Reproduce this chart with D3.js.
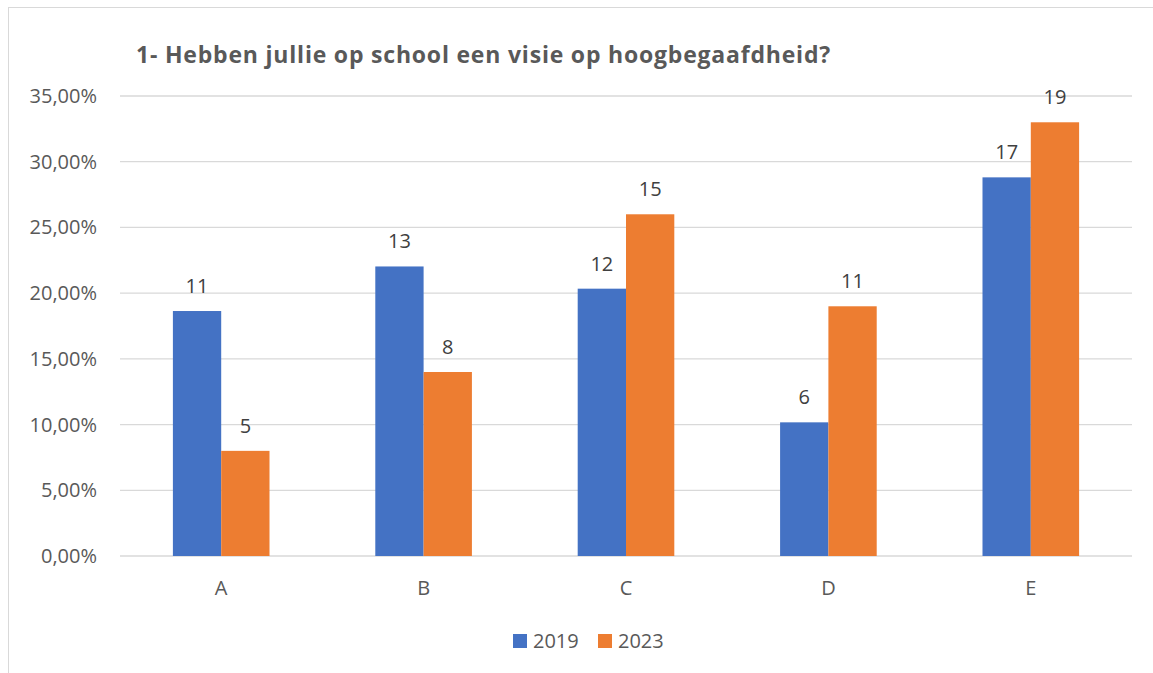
<!DOCTYPE html>
<html>
<head>
<meta charset="utf-8">
<script src="https://cdn.jsdelivr.net/npm/d3@7"></script>
<style>
  body { margin: 0; background: #fff; }
  svg text { font-family: "Open Sans", sans-serif; }
</style>
</head>
<body>
<svg id="chart" width="1153" height="673"></svg>
<script>
// chart data
const categories = ["A", "B", "C", "D", "E"];
const seriesNames = ["2019", "2023"];
const pct2019 = [18.64, 22.03, 20.34, 10.17, 28.81];
const pct2023 = [8.0, 14.0, 26.0, 19.0, 33.0];
const count2019 = [11, 13, 12, 6, 17];
const count2023 = [5, 8, 15, 11, 19];
const yTicks = [0, 5, 10, 15, 20, 25, 30, 35];
const colors = ["#4472C4", "#ED7D31"];

const margin = { top: 96, right: 21, bottom: 117, left: 120 };
const W = 1153, H = 673;
const width = W - margin.left - margin.right;
const height = H - margin.top - margin.bottom;

const svg = d3.select("#chart");

// outer frame
svg.append("rect")
  .attr("x", 8.5).attr("y", 7.5)
  .attr("width", W).attr("height", H)
  .attr("fill", "none")
  .attr("stroke", "#d9d9d9");

svg.append("text")
  .attr("x", 136)
  .attr("y", 63)
  .style("font-size", "23px")
  .style("font-weight", "bold")
  .style("letter-spacing", "0.8px")
  .style("fill", "#595959")
  .text("1- Hebben jullie op school een visie op hoogbegaafdheid?");

const g = svg.append("g")
  .attr("transform", `translate(${margin.left},${margin.top})`);

const x0 = d3.scaleBand().domain(categories).range([0, width]).paddingInner(0).paddingOuter(0);
const groupW = x0.bandwidth() / 2.095;
const x1 = d3.scaleBand().domain(seriesNames)
  .range([(x0.bandwidth() - groupW) / 2, (x0.bandwidth() + groupW) / 2]);
const y = d3.scaleLinear().domain([0, 35]).range([height, 0]);

// gridlines
g.selectAll(".grid")
  .data(yTicks)
  .enter().append("line")
  .attr("x1", 0).attr("x2", width)
  .attr("y1", d => y(d)).attr("y2", d => y(d))
  .attr("stroke", "#d9d9d9")
  .attr("stroke-width", 1.3);

// y tick labels
g.selectAll(".ytick")
  .data(yTicks)
  .enter().append("text")
  .attr("x", -23)
  .attr("y", d => y(d) + 7)
  .attr("text-anchor", "end")
  .style("font-size", "20px")
  .style("fill", "#595959")
  .text(d => d.toFixed(2).replace(".", ",") + "%");

const rows = categories.map((c, i) => ({
  cat: c,
  vals: [
    { s: "2019", v: pct2019[i], n: count2019[i] },
    { s: "2023", v: pct2023[i], n: count2023[i] }
  ]
}));

const groups = g.selectAll(".grp")
  .data(rows)
  .enter().append("g")
  .attr("transform", d => `translate(${x0(d.cat)},0)`);

groups.selectAll("rect")
  .data(d => d.vals)
  .enter().append("rect")
  .attr("x", d => x1(d.s))
  .attr("y", d => y(d.v))
  .attr("width", x1.bandwidth())
  .attr("height", d => y(0) - y(d.v))
  .attr("fill", (d, i) => colors[i]);

groups.selectAll(".lbl")
  .data(d => d.vals)
  .enter().append("text")
  .attr("x", d => x1(d.s) + x1.bandwidth() / 2)
  .attr("y", d => y(d.v) - 18)
  .attr("text-anchor", "middle")
  .style("font-size", "20px")
  .style("fill", "#404040")
  .text(d => d.n);

// category labels
g.selectAll(".xtick")
  .data(categories)
  .enter().append("text")
  .attr("x", d => x0(d) + x0.bandwidth() / 2)
  .attr("y", height + 39)
  .attr("text-anchor", "middle")
  .style("font-size", "20px")
  .style("fill", "#595959")
  .text(d => d);

// legend
const legendX = [513, 598];
const legend = svg.selectAll(".leg")
  .data(seriesNames)
  .enter().append("g")
  .attr("transform", (d, i) => `translate(${legendX[i]},634)`);
legend.append("rect")
  .attr("width", 14).attr("height", 14)
  .attr("fill", (d, i) => colors[i]);
legend.append("text")
  .attr("x", 20).attr("y", 14)
  .style("font-size", "20px")
  .style("fill", "#595959")
  .text(d => d);
</script>
</body>
</html>
